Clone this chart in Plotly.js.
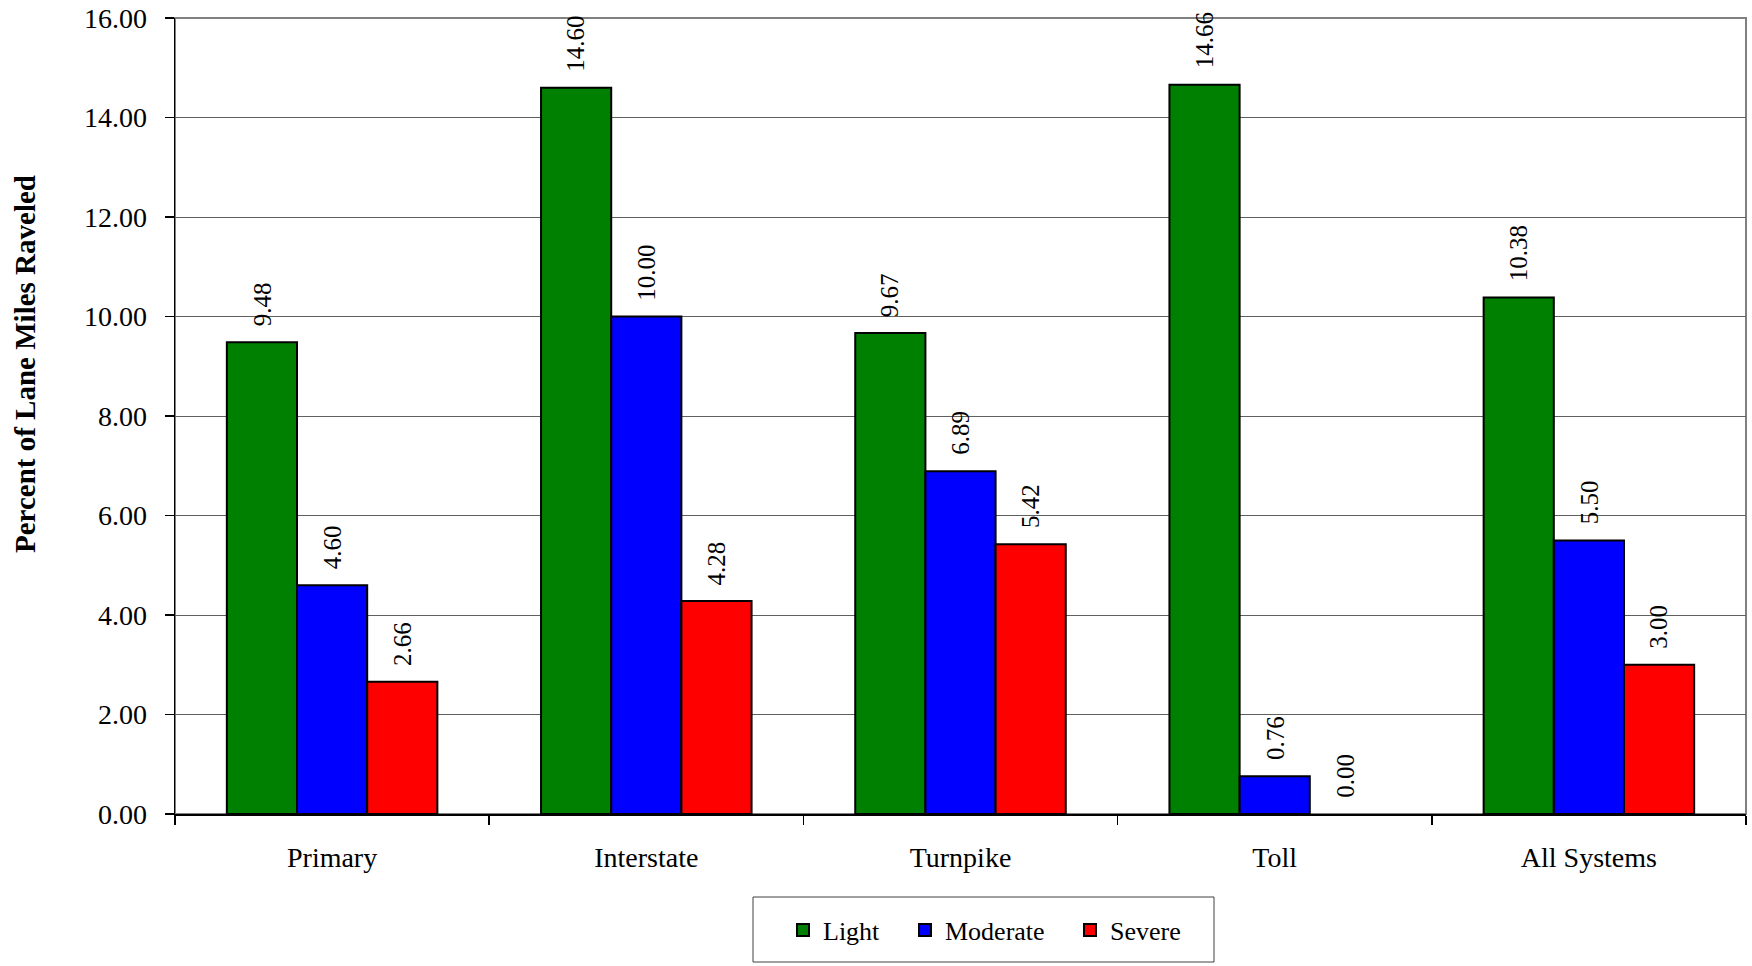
<!DOCTYPE html>
<html>
<head>
<meta charset="utf-8">
<script src="https://cdn.plot.ly/plotly-3.0.1.min.js"></script>
<style>
html,body{margin:0;padding:0;background:#fff;}
#chart{width:1752px;height:966px;}
</style>
</head>
<body>
<div id="chart"></div>
<script>
const categories = ["Primary", "Interstate", "Turnpike", "Toll", "All Systems"];
const seriesNames = ["Light", "Moderate", "Severe"];
const lightValues = [9.48, 14.60, 9.67, 14.66, 10.38];
const moderateValues = [4.60, 10.00, 6.89, 0.76, 5.50];
const severeValues = [2.66, 4.28, 5.42, 0.00, 3.00];
const yTickValues = [0, 2, 4, 6, 8, 10, 12, 14, 16];
const yAxisTitle = "Percent of Lane Miles Raveled";

const seriesValues = [lightValues, moderateValues, severeValues];
const seriesColors = ["#008000", "#0000FF", "#FF0000"];

const W = 1752, H = 966;
const margin = {l: 175, r: 6, t: 18, b: 152};
const bargap = 0.33;
const FONT = "Liberation Serif, Times New Roman, serif";
const plotW = W - margin.l - margin.r;
const plotH = H - margin.t - margin.b;
const pxToPaperX = px => (px - margin.l) / plotW;
const pxToPaperY = py => (H - margin.b - py) / plotH;

const legendIds = ["legend", "legend2", "legend3"];
const legendLeftPx = [783, 905, 1070];

const traces = seriesValues.map((vals, i) => ({
  type: "bar",
  name: seriesNames[i],
  x: categories,
  y: vals,
  legend: legendIds[i],
  marker: {
    color: seriesColors[i],
    line: {color: "#000000", width: vals.map(v => v === 0 ? 0 : 2)}
  },
  hoverinfo: "skip"
}));

const barW = plotW / categories.length * (1 - bargap) / seriesValues.length;

const annotations = [];
seriesValues.forEach((vals, i) => {
  vals.forEach((v, j) => {
    annotations.push({
      x: categories[j], y: v, xref: "x", yref: "y",
      text: v.toFixed(2), showarrow: false, textangle: -90,
      xanchor: "center", yanchor: "bottom",
      xshift: (i - (seriesValues.length - 1) / 2) * barW,
      yshift: 14,
      font: {family: FONT, size: 25, color: "#000"}
    });
  });
});
annotations.push({
  xref: "paper", yref: "paper", x: pxToPaperX(25), y: pxToPaperY(364),
  text: "<b>" + yAxisTitle + "</b>", showarrow: false, textangle: -90,
  xanchor: "center", yanchor: "middle",
  font: {family: FONT, size: 29, color: "#000"}
});

const layout = {
  width: W, height: H,
  margin: margin,
  paper_bgcolor: "#ffffff",
  plot_bgcolor: "#ffffff",
  barmode: "group",
  bargap: bargap,
  bargroupgap: 0,
  font: {family: FONT, size: 28, color: "#000"},
  xaxis: {
    type: "category",
    showline: true, linecolor: "#000", linewidth: 1.5,
    ticks: "outside", ticklen: 9, tickcolor: "#000", tickwidth: 1.5,
    tickson: "boundaries",
    ticklabelstandoff: 18,
    showgrid: false,
    tickfont: {family: FONT, size: 28, color: "#000"}
  },
  yaxis: {
    range: [0, 16],
    tickvals: yTickValues,
    tickformat: ".2f",
    showline: true, linecolor: "#000", linewidth: 1.5,
    ticks: "outside", ticklen: 9, tickcolor: "#000", tickwidth: 1.5,
    ticklabelstandoff: 12,
    showgrid: true, gridcolor: "#606060", gridwidth: 1,
    zeroline: false,
    tickfont: {family: FONT, size: 28, color: "#000"}
  },
  shapes: [
    {
      type: "rect", xref: "paper", yref: "paper", x0: 0, x1: 1, y0: 0, y1: 1,
      line: {color: "#808080", width: 2}, layer: "below"
    },
    {
      type: "rect", xref: "paper", yref: "paper",
      x0: pxToPaperX(753), x1: pxToPaperX(1214),
      y0: pxToPaperY(962), y1: pxToPaperY(897),
      line: {color: "#404040", width: 1}, fillcolor: "rgba(0,0,0,0)", layer: "above"
    }
  ],
  showlegend: true,
  annotations: annotations
};

legendIds.forEach((id, i) => {
  layout[id] = {
    orientation: "h",
    x: pxToPaperX(legendLeftPx[i]), xanchor: "left",
    y: pxToPaperY(930), yanchor: "middle",
    borderwidth: 0,
    bgcolor: "rgba(0,0,0,0)",
    font: {family: FONT, size: 26, color: "#000"}
  };
});

Plotly.newPlot("chart", traces, layout, {displayModeBar: false, staticPlot: true});
</script>
</body>
</html>
